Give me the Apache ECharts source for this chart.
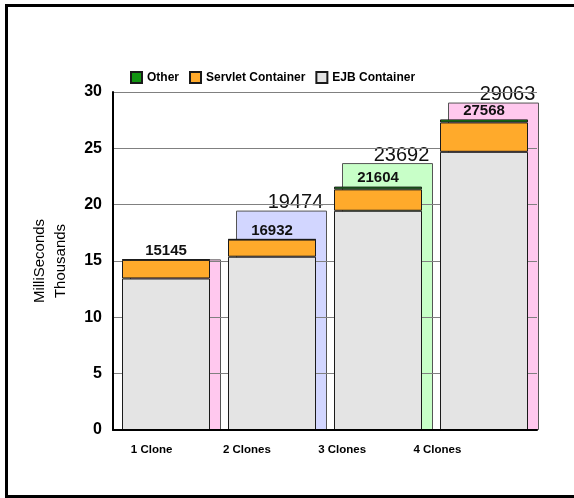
<!DOCTYPE html>
<html>
<head>
<meta charset="utf-8">
<script src="https://cdn.jsdelivr.net/npm/echarts@6/dist/echarts.min.js"></script>
<style>
  html, body { margin: 0; padding: 0; background: #fff; }
  #chart { width: 574px; height: 498px; }
</style>
</head>
<body>
<div id="chart"></div>
<script>
// Response time per cluster size, in milliseconds
const categories = ['1 Clone', '2 Clones', '3 Clones', '4 Clones'];
const ejbContainer = [13450, 15380, 19460, 24690];
const servletContainer = [1650, 1520, 1900, 2610];
const other = [45, 32, 244, 268];
const stackTotals = [15145, 16932, 21604, 27568];
const overallTotals = [15145, 19474, 23692, 29063];
const yTicks = [0, 5, 10, 15, 20, 25, 30]; // thousands

// Styling
const FONT = 'Arial, "Liberation Sans", Helvetica, sans-serif';
const overallColors = ['#FFC8EE', '#D2D6FF', '#C8FFC8', '#FFC8EE'];
const yMin = yTicks[0] * 1000;
const yMax = yTicks[yTicks.length - 1] * 1000;
const yStep = (yTicks[1] - yTicks[0]) * 1000;

const chart = echarts.init(document.getElementById('chart'), null, { renderer: 'canvas' });

const stackedStyle = (color) => ({ color: color, borderColor: '#1a1a1a', borderWidth: 1 });

chart.setOption({
  animation: false,
  backgroundColor: '#fff',
  textStyle: { fontFamily: FONT },
  graphic: [{
    type: 'rect',
    silent: true,
    z: 100,
    shape: { x: 6.5, y: 5.5, width: 700, height: 491 },
    style: { fill: 'none', stroke: '#000', lineWidth: 3 }
  }],
  legend: {
    data: ['Other', 'Servlet Container', 'EJB Container'],
    left: 125,
    top: 66,
    icon: 'rect',
    itemWidth: 11,
    itemHeight: 11,
    itemGap: 10,
    textStyle: { fontFamily: FONT, fontWeight: 'bold', fontSize: 12, color: '#000' }
  },
  grid: [
    { left: 113, right: 37, top: 92, bottom: 68 },
    { left: 122.5, right: 27.5, top: 92, bottom: 68 },
    { left: 104, width: 381, top: 92, bottom: 68 }
  ],
  xAxis: [
    {
      gridIndex: 0, type: 'category', data: categories, z: 5,
      axisLine: { lineStyle: { color: '#000', width: 2 } },
      axisTick: { show: false }, axisLabel: { show: false }
    },
    { gridIndex: 1, type: 'category', data: categories, show: false },
    {
      gridIndex: 2, type: 'category', data: categories,
      axisLine: { show: false }, axisTick: { show: false },
      axisLabel: { fontFamily: FONT, fontWeight: 'bold', fontSize: 11.5, color: '#000', margin: 14 }
    }
  ],
  yAxis: [
    {
      gridIndex: 0, type: 'value', min: yMin, max: yMax, interval: yStep, z: 3,
      name: 'MilliSeconds\nThousands',
      nameLocation: 'middle',
      nameRotate: 90,
      nameGap: 42,
      nameTextStyle: { fontFamily: FONT, fontSize: 15, color: '#000', lineHeight: 21 },
      axisLine: { show: true, lineStyle: { color: '#000', width: 2 } },
      axisTick: { show: false },
      axisLabel: {
        fontFamily: FONT, fontWeight: 'bold', fontSize: 16, color: '#000', margin: 11,
        formatter: (v) => String(v / 1000)
      },
      splitLine: { show: true, lineStyle: { color: '#808080', width: 1 } }
    },
    { gridIndex: 1, type: 'value', min: yMin, max: yMax, interval: yStep, show: false, splitLine: { show: false } },
    { gridIndex: 2, type: 'value', min: yMin, max: yMax, show: false, splitLine: { show: false } }
  ],
  series: [
    {
      name: 'Total',
      type: 'bar',
      xAxisIndex: 1,
      yAxisIndex: 1,
      barWidth: 91,
      z: 2,
      data: overallTotals.map((v, i) => ({ value: v, itemStyle: { color: overallColors[i] } })),
      itemStyle: { borderColor: '#555', borderWidth: 1 },
      label: {
        show: true,
        position: 'top',
        distance: -2,
        offset: [14, 0],
        fontFamily: FONT,
        fontSize: 20,
        color: '#111',
        formatter: (p) => (p.value === stackTotals[p.dataIndex] ? '' : String(p.value))
      }
    },
    {
      name: 'EJB Container',
      type: 'bar', stack: 'time', xAxisIndex: 0, yAxisIndex: 0,
      barWidth: 88, z: 4,
      itemStyle: stackedStyle('#E4E4E4'),
      data: ejbContainer
    },
    {
      name: 'Servlet Container',
      type: 'bar', stack: 'time', xAxisIndex: 0, yAxisIndex: 0,
      barWidth: 88, z: 4,
      itemStyle: stackedStyle('#FFAA2B'),
      data: servletContainer
    },
    {
      name: 'Other',
      type: 'bar', stack: 'time', xAxisIndex: 0, yAxisIndex: 0,
      barWidth: 88, z: 4,
      itemStyle: stackedStyle('#129512'),
      data: other,
      label: {
        show: true,
        position: 'top',
        distance: 1,
        fontFamily: FONT,
        fontWeight: 'bold',
        fontSize: 15,
        color: '#111',
        formatter: (p) => String(stackTotals[p.dataIndex])
      }
    }
  ]
});
</script>
</body>
</html>
